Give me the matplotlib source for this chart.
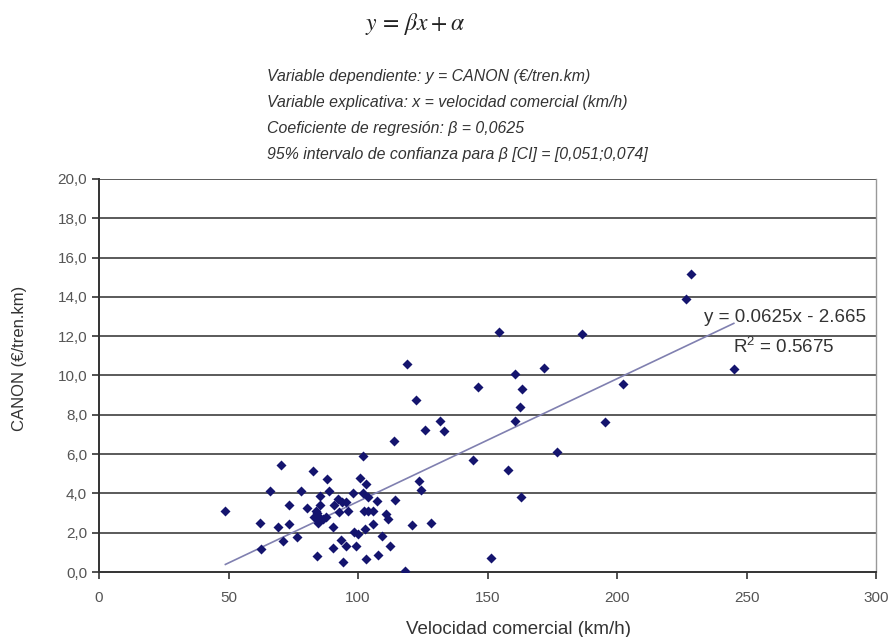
import matplotlib
matplotlib.use("Agg")
import matplotlib.pyplot as plt
from matplotlib.ticker import FuncFormatter

plt.rcParams['font.family'] = ['Liberation Sans', 'DejaVu Sans']
plt.rcParams['mathtext.fontset'] = 'stix'

# velocidad comercial (km/h)
velocidad = [48.8, 62.2, 62.6, 65.9, 69.2, 70.2, 71.2, 73.2, 73.2, 76.5,
             77.8, 80.4, 82.7, 84.1, 83.6, 84.0, 85.2, 85.3, 84.5, 83.0,
             84.5, 85.5, 86.5, 87.5, 88.0, 88.9, 90.5, 90.3, 90.6, 92.3,
             92.8, 93.3, 93.9, 95.2, 95.2, 94.3, 96.3, 97.9, 98.5, 99.1,
             100.0, 100.9, 101.9, 102.1, 102.2, 102.6, 102.9, 103.2, 104.0, 104.0,
             105.8, 105.8, 107.5, 107.7, 109.1, 111.0, 111.5, 112.5, 113.9, 114.3,
             118.3, 119.1, 120.8, 122.3, 123.5, 124.4, 125.9, 128.1, 131.5, 133.3,
             144.5, 146.5, 151.4, 154.3, 158.0, 160.5, 160.7, 162.7, 163.1, 163.2,
             172.0, 177.0, 186.3, 195.2, 202.5, 226.7, 228.4, 245.1]
# canon (€/tren.km)
canon = [3.10, 2.50, 1.15, 4.10, 2.30, 5.45, 1.60, 3.40, 2.45, 1.80,
         4.10, 3.25, 5.15, 0.80, 3.10, 3.00, 3.85, 3.42, 2.47, 2.82,
         2.65, 2.75, 2.72, 2.80, 4.72, 4.14, 2.30, 1.20, 3.40, 3.73,
         3.05, 1.64, 3.55, 3.57, 1.30, 0.50, 3.10, 4.00, 2.02, 1.30,
         1.93, 4.77, 5.92, 4.00, 3.12, 2.19, 4.46, 0.67, 3.81, 3.12,
         3.12, 2.43, 3.60, 0.88, 1.81, 2.95, 2.70, 1.33, 6.68, 3.66,
         0.03, 10.58, 2.38, 8.75, 4.62, 4.19, 7.22, 2.48, 7.68, 7.19,
         5.69, 9.43, 0.69, 12.20, 5.20, 10.06, 7.68, 8.38, 3.81, 9.31,
         10.39, 6.11, 12.13, 7.62, 9.56, 13.89, 15.16, 10.32]

beta = 0.0625
alpha = -2.665
r2 = 0.5675

xticks = [0, 50, 100, 150, 200, 250, 300]
yticks = [0, 2, 4, 6, 8, 10, 12, 14, 16, 18, 20]

fig = plt.figure(figsize=(8.91, 6.37), dpi=100)
ax = fig.add_axes([99 / 891, 65 / 637, 777 / 891, 393 / 637])

for yv in yticks[1:]:
    ax.axhline(yv, color='#5a5a5a', lw=1.4, zorder=1)

ax.scatter(velocidad, canon, marker='D', s=26, color='#14146e', zorder=3, linewidths=0)

xs = [min(velocidad), max(velocidad)]
ax.plot(xs, [beta * v + alpha for v in xs], color='#8080b0', lw=1.2, zorder=2)

ax.text(296, 12.93, 'y = %.4fx - %.3f' % (beta, -alpha), fontsize=13.5,
        color='#333333', ha='right', va='center')
ax.text(284, 11.45, '$\\mathregular{R^2}$ = %.4f' % r2, fontsize=13.5,
        color='#333333', ha='right', va='center')

ax.set_xlim(0, 300)
ax.set_ylim(0, 20)
ax.set_xticks(xticks)
ax.set_yticks(yticks)
ax.yaxis.set_major_formatter(FuncFormatter(lambda v, p: ('%.1f' % v).replace('.', ',')))
ax.tick_params(axis='both', direction='out', length=5, width=1.2, color='#333333',
               labelcolor='#555555', labelsize=11)
ax.tick_params(axis='x', pad=9)

for s in ['left', 'bottom']:
    ax.spines[s].set_color('#333333')
    ax.spines[s].set_linewidth(1.4)
ax.spines['top'].set_visible(False)
ax.spines['right'].set_color('#999999')
ax.spines['right'].set_linewidth(1.0)

ax.set_xlabel('Velocidad comercial (km/h)', fontsize=13.5, color='#333333')
ax.xaxis.set_label_coords((518 - 99) / 777, -(630 - 572) / 393)
ax.set_ylabel('CANON (€/tren.km)', fontsize=12, color='#333333')
ax.yaxis.set_label_coords(-(99 - 20) / 777, (572 - 358) / 393)
ax.xaxis.label.set_va('center')
ax.yaxis.label.set_va('center')

fig.text(415 / 891, 1 - 24 / 637, r'$y\,=\,\beta x + \alpha$', fontsize=17,
         ha='center', va='center', color='#222222')
header = ['Variable dependiente: y = CANON (€/tren.km)',
          'Variable explicativa: x = velocidad comercial (km/h)',
          'Coeficiente de regresión: β = 0,0625',
          '95% intervalo de confianza para β [CI] = [0,051;0,074]']
for i, line in enumerate(header):
    fig.text(267 / 891, 1 - (77 + 26 * i) / 637, line, fontsize=11.4, style='italic',
             ha='left', va='center', color='#333333')

fig.savefig('out.png', dpi=100)
